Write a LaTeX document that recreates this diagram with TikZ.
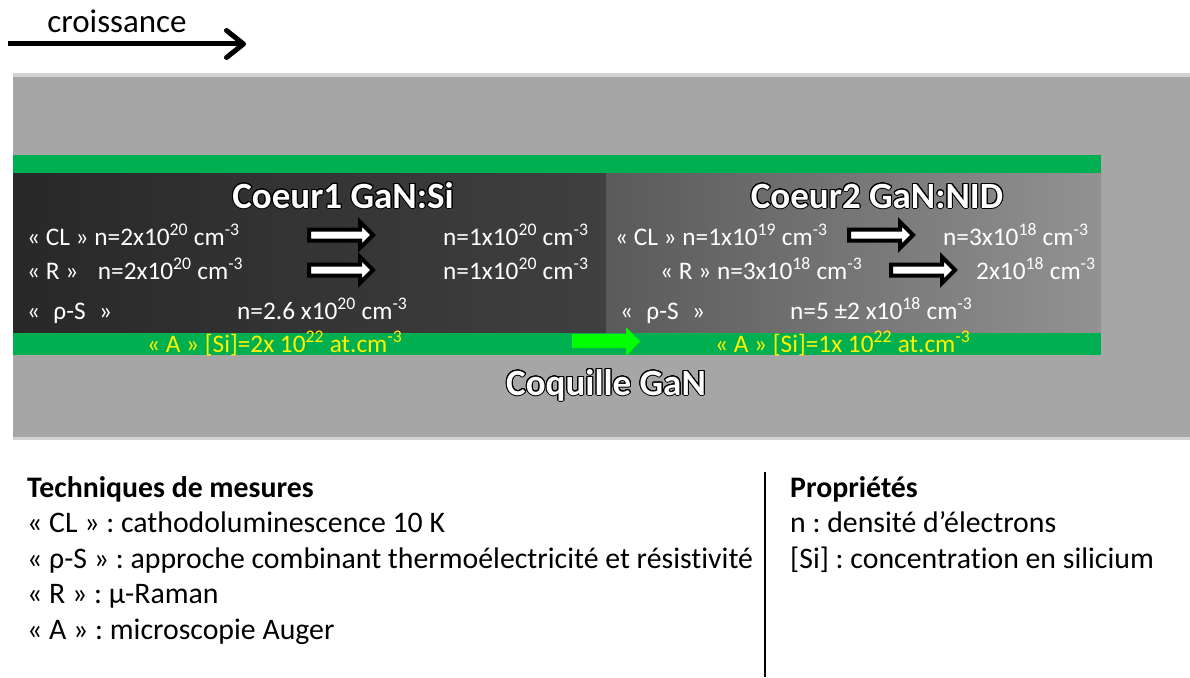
\documentclass[tikz,border=0pt]{standalone}
\usepackage{fontspec}
\setmainfont{Carlito}[Ligatures=NoCommon]
\usepackage[copies]{contour}
\contourlength{1pt}
\contournumber{24}
\usetikzlibrary{arrows.meta}
\frenchspacing

\definecolor{gris}{HTML}{A6A6A6}
\definecolor{vert}{HTML}{00B050}
\definecolor{vertvif}{HTML}{00FF00}
\definecolor{coeurA}{HTML}{282828}
\definecolor{coeurB}{HTML}{404040}
\definecolor{coeurC}{HTML}{5A5A5A}
\definecolor{coeurD}{HTML}{929292}

\tikzset{
  fatarrow/.pic={
    \filldraw[fill=white, draw=black, line width=4pt, line join=miter]
      (0,-5.5) -- (51,-5.5) -- (51,-13) -- (64,0) -- (51,13) -- (51,5.5) -- (0,5.5) -- cycle;
  }
}

\begin{document}
\begin{tikzpicture}[x=1pt,y=-1pt,
  txt/.style={anchor=base west, inner sep=0pt, text=white, font=\fontsize{25.3}{30}\selectfont},
  dopage/.style={txt, text=yellow},
  titre/.style={anchor=base, inner sep=0pt, text=white, font=\fontsize{37}{44}\selectfont\bfseries},
  legende/.style={anchor=base west, inner sep=0pt, font=\fontsize{29.8}{35}\selectfont}]

\useasboundingbox (0,0) rectangle (1190,677);

% croissance
\node[anchor=base, inner sep=0pt, font=\fontsize{33}{40}\selectfont] (crois) at (117,33) {croissance};
\coordinate (c0) at (8,44);
\coordinate (c1) at (246,44);
\draw[line width=5pt, -{Straight Barb[length=17pt,width=27pt,round]}] (c0) -- (c1);

% couches
\fill[gray!35] (13,73) rectangle (1190,440);
\fill[gris] (13,77) rectangle (1190,437);
\fill[vert] (13,155) rectangle (1101,173);
\shade[left color=coeurA, right color=coeurB] (13,173) rectangle (606,333);
\shade[left color=coeurC, right color=coeurD] (606,173) rectangle (1101,333);
\fill[vert] (13,333) rectangle (1101,355);
\fill[vertvif] (572,334) -- (626,334) -- (626,327) -- (640,341.5) -- (626,356) -- (626,348) -- (572,348) -- cycle;

% coeur 1
\node[titre] (t1) at (343,208) {\contour{black}{Coeur1 GaN:Si}};
\node[txt] (cl1) at (27,245) {« CL » n=2x10\textsuperscript{20} cm\textsuperscript{-3}};
\pic at (309,235) {fatarrow};
\node[txt] (cl1b) at (443,245) {n=1x10\textsuperscript{20} cm\textsuperscript{-3}};
\node[txt] (r1) at (27,279) {« R »\hspace{0.55em} n=2x10\textsuperscript{20} cm\textsuperscript{-3}};
\pic at (309,270) {fatarrow};
\node[txt] (r1b) at (443,279) {n=1x10\textsuperscript{20} cm\textsuperscript{-3}};
\node[txt] (rs1) at (27,319) {«\hspace{0.3em} ρ-S\hspace{0.3em} »};
\node[txt] (rs1b) at (237,319) {n=2.6 x10\textsuperscript{20} cm\textsuperscript{-3}};
\node[dopage] (a1) at (147,352) {« A » [Si]=2x 10\textsuperscript{22} at.cm\textsuperscript{-3}};

% coeur 2
\node[titre] (t2) at (877,208) {\contour{black}{Coeur2 GaN:NID}};
\node[txt] (cl2) at (615,245) {« CL » n=1x10\textsuperscript{19} cm\textsuperscript{-3}};
\pic at (849,235) {fatarrow};
\node[txt] (cl2b) at (943,245) {n=3x10\textsuperscript{18} cm\textsuperscript{-3}};
\node[txt] (r2) at (660,279) {« R » n=3x10\textsuperscript{18} cm\textsuperscript{-3}};
\pic at (891,270) {fatarrow};
\node[txt] (r2b) at (976,279) {2x10\textsuperscript{18} cm\textsuperscript{-3}};
\node[txt] (rs2) at (620,319) {«\hspace{0.3em} ρ-S\hspace{0.3em} »};
\node[txt] (rs2b) at (790,319) {n=5 ±2 x10\textsuperscript{18} cm\textsuperscript{-3}};
\node[dopage] (a2) at (715,352) {« A » [Si]=1x 10\textsuperscript{22} at.cm\textsuperscript{-3}};

% coquille
\node[titre] (coq) at (606,395) {\contour{black}{Coquille GaN}};

% legende
\node[legende, font=\fontsize{29.8}{35}\selectfont\bfseries] (tech) at (27,497) {Techniques de mesures};
\node[legende] (lcl) at (27,532.5) {« CL » : cathodoluminescence 10 K};
\node[legende] (lrs) at (27,568) {« ρ-S » : approche combinant thermoélectricité et résistivité};
\node[legende] (lr) at (27,603.5) {« R » : µ-Raman};
\node[legende] (la) at (27,639) {« A » : microscopie Auger};
\coordinate (s0) at (765,472);
\coordinate (s1) at (765,677);
\draw[line width=1.2pt] (s0) -- (s1);
\node[legende, font=\fontsize{29.8}{35}\selectfont\bfseries] (prop) at (790,497) {Propriétés};
\node[legende] (ln) at (790,532.5) {n : densité d’électrons};
\node[legende] (lsi) at (790,568) {[Si] : concentration en silicium};

\end{tikzpicture}
\end{document}
